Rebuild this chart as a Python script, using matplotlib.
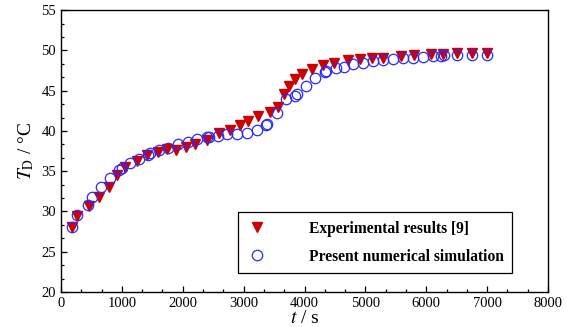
import matplotlib

matplotlib.use("Agg")
import matplotlib.pyplot as plt
from matplotlib.ticker import MultipleLocator

plt.rcParams["font.family"] = "serif"
plt.rcParams["font.serif"] = ["Liberation Serif", "DejaVu Serif"]
plt.rcParams["mathtext.fontset"] = "stix"

# experimental results [9]
exp_t = [175, 268, 465, 624, 794, 925, 1052, 1243, 1418, 1599, 1747, 1890, 2054, 2202,
         2394, 2601, 2777, 2941, 3070, 3242, 3428, 3571, 3660, 3751, 3845, 3955, 4120,
         4310, 4480, 4720, 4913, 5110, 5296, 5590, 5795, 6075, 6276, 6505, 6748, 6990]
exp_T = [28.1, 29.5, 30.7, 31.8, 33.1, 34.5, 35.5, 36.3, 37.0, 37.4, 37.7, 37.6, 38.0, 38.4,
         38.9, 39.7, 40.1, 40.7, 41.2, 41.8, 42.4, 43.0, 44.6, 45.6, 46.4, 47.1, 47.7,
         48.2, 48.4, 48.75, 48.95, 49.1, 49.1, 49.3, 49.4, 49.5, 49.6, 49.7, 49.7, 49.7]

# present numerical simulation
sim_t = [175, 268, 449, 504, 652, 805, 958, 997, 1134, 1287, 1435, 1462, 1615, 1763, 1927,
         2092, 2240, 2394, 2437, 2584, 2733, 2887, 3051, 3215, 3368, 3390, 3544, 3697, 3845,
         3872, 4025, 4173, 4337, 4360, 4510, 4650, 4800, 4967, 5121, 5296, 5460, 5625, 5789,
         5953, 6107, 6250, 6290, 6501, 6748, 6994]
sim_T = [28.1, 29.55, 30.8, 31.8, 33.1, 34.1, 35.1, 35.4, 36.0, 36.55, 37.0, 37.2, 37.6, 37.9,
         38.4, 38.65, 38.95, 39.2, 39.3, 39.35, 39.6, 39.6, 39.75, 40.1, 40.7, 40.9, 42.2, 44.0,
         44.4, 44.6, 45.6, 46.6, 47.3, 47.4, 47.8, 48.0, 48.3, 48.45, 48.7, 48.8, 48.9, 49.0,
         49.1, 49.2, 49.3, 49.35, 49.4, 49.4, 49.4, 49.4]

fig = plt.figure(figsize=(5.66, 3.27), dpi=100)
ax = fig.add_axes([0.1078, 0.107, 0.8604, 0.862])

ax.plot(exp_t, exp_T, linestyle="none", marker="v", markersize=7.8,
        color="#cc0000", markeredgecolor="#cc0000", label="Experimental results [9]", zorder=3)
ax.plot(sim_t, sim_T, linestyle="none", marker="o", markersize=7.5,
        markerfacecolor="none", markeredgecolor="#2a2aff", markeredgewidth=0.9,
        label="Present numerical simulation", zorder=4)

ax.set_xlim(0, 8000)
ax.set_ylim(20, 55)
ax.xaxis.set_major_locator(MultipleLocator(1000))
ax.xaxis.set_minor_locator(MultipleLocator(1000 / 3))
ax.yaxis.set_major_locator(MultipleLocator(5))
ax.yaxis.set_minor_locator(MultipleLocator(5 / 3))
ax.tick_params(which="both", direction="in", top=False, right=False, labelsize=10.5, width=0.9)
ax.tick_params(which="major", length=4)
ax.tick_params(which="minor", length=2.5)
for spine in ax.spines.values():
    spine.set_linewidth(1.0)

ax.set_xlabel(r"$t$ / s", fontsize=14, labelpad=0)
ax.set_ylabel(r"$T_{\mathrm{D}}$ / °C", fontsize=14, labelpad=4)

leg = ax.legend(loc="lower left", bbox_to_anchor=(0.363, 0.067), borderaxespad=0,
                prop={"weight": "bold", "size": 11.2}, handletextpad=2.6, handlelength=1.4,
                borderpad=0.55, labelspacing=0.75, fancybox=False, framealpha=1)
leg.get_frame().set_edgecolor("black")
leg.get_frame().set_linewidth(0.9)

fig.savefig("out.png", dpi=100)
